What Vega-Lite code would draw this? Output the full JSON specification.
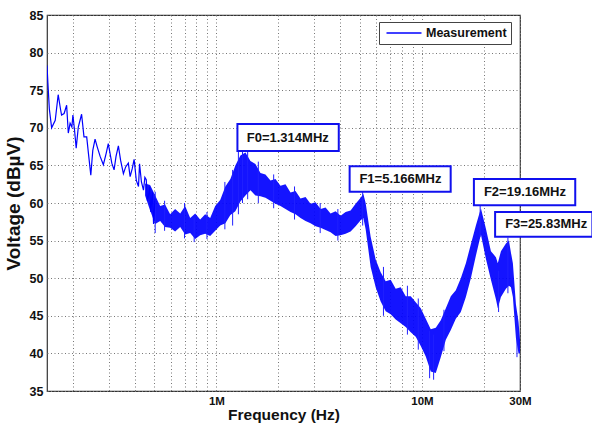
{
  "$schema": "https://vega.github.io/schema/vega-lite/v6.json",
  "width": 473,
  "height": 376,
  "autosize": {"type": "none"},
  "padding": {"left": 47, "top": 15, "right": 72, "bottom": 36},
  "background": "white",
  "config": {
    "font": "Liberation Sans",
    "view": {"stroke": "#333", "strokeWidth": 1.2},
    "axis": {
      "grid": true,
      "gridColor": "#777",
      "gridDash": [1, 2.5],
      "gridWidth": 1,
      "domain": false,
      "ticks": false,
      "labelFont": "Liberation Sans",
      "labelFontWeight": "bold",
      "labelFontSize": 11.5,
      "labelColor": "#111",
      "labelOverlap": false,
      "titleFont": "Liberation Sans",
      "titleFontWeight": "bold",
      "titleColor": "#111"
    }
  },
  "datasets": {
    "trace": [
      {"f": 150000, "v": 78.3}, {"f": 151500, "v": 76.0}, {"f": 154000, "v": 72.5}, {"f": 158000, "v": 70.0},
      {"f": 164500, "v": 71.0}, {"f": 170000, "v": 74.4}, {"f": 174700, "v": 72.4}, {"f": 176600, "v": 71.7},
      {"f": 181700, "v": 71.9}, {"f": 186900, "v": 73.0}, {"f": 190400, "v": 69.3}, {"f": 194300, "v": 70.6},
      {"f": 198200, "v": 70.1}, {"f": 200500, "v": 71.7}, {"f": 204000, "v": 69.8}, {"f": 208000, "v": 67.3},
      {"f": 213000, "v": 70.1}, {"f": 221000, "v": 71.8}, {"f": 227000, "v": 68.8}, {"f": 234000, "v": 68.8},
      {"f": 238600, "v": 66.6}, {"f": 245000, "v": 63.7}, {"f": 250500, "v": 67.0}, {"f": 257000, "v": 68.5},
      {"f": 263000, "v": 67.5}, {"f": 272000, "v": 66.2}, {"f": 282000, "v": 65.1}, {"f": 291000, "v": 66.6},
      {"f": 298000, "v": 67.9}, {"f": 310000, "v": 65.3}, {"f": 318000, "v": 64.4}, {"f": 325000, "v": 66.2},
      {"f": 333700, "v": 67.6}, {"f": 342000, "v": 65.7}, {"f": 353000, "v": 63.9}, {"f": 362000, "v": 64.8},
      {"f": 373000, "v": 65.3}, {"f": 380600, "v": 63.5}, {"f": 390000, "v": 64.6}, {"f": 398000, "v": 65.8},
      {"f": 408000, "v": 63.0}, {"f": 418000, "v": 62.2}, {"f": 423000, "v": 65.2}, {"f": 432000, "v": 62.8},
      {"f": 442000, "v": 61.7}, {"f": 449000, "v": 63.4}, {"f": 456000, "v": 63.1}, {"f": 462000, "v": 60.3},
      {"f": 467000, "v": 60.8}, {"f": 473000, "v": 62.2}, {"f": 480000, "v": 58.8}, {"f": 488000, "v": 61.5},
      {"f": 495000, "v": 57.2}, {"f": 503000, "v": 60.6}
    ],
    "band": [
      {"f": 450000, "lo": 61.0, "hi": 62.6},
      {"f": 476000, "lo": 59.0, "hi": 62.4},
      {"f": 504000, "lo": 57.2, "hi": 61.0},
      {"f": 533000, "lo": 57.6, "hi": 59.6},
      {"f": 563000, "lo": 56.8, "hi": 59.8},
      {"f": 596000, "lo": 56.7, "hi": 58.5},
      {"f": 630000, "lo": 56.2, "hi": 59.2},
      {"f": 667000, "lo": 56.8, "hi": 58.6},
      {"f": 705000, "lo": 55.8, "hi": 59.6},
      {"f": 746000, "lo": 56.0, "hi": 58.0},
      {"f": 789000, "lo": 55.2, "hi": 58.6},
      {"f": 834000, "lo": 55.7, "hi": 57.8},
      {"f": 882000, "lo": 55.9, "hi": 58.5},
      {"f": 933000, "lo": 55.6, "hi": 58.0},
      {"f": 987000, "lo": 56.3, "hi": 59.6},
      {"f": 1044000, "lo": 57.0, "hi": 60.4},
      {"f": 1106000, "lo": 57.3, "hi": 62.2},
      {"f": 1170000, "lo": 58.4, "hi": 63.2},
      {"f": 1237000, "lo": 58.9, "hi": 65.0},
      {"f": 1309000, "lo": 60.2, "hi": 66.3},
      {"f": 1385000, "lo": 61.0, "hi": 66.7},
      {"f": 1465000, "lo": 61.7, "hi": 65.6},
      {"f": 1549000, "lo": 61.0, "hi": 65.2},
      {"f": 1639000, "lo": 60.9, "hi": 64.0},
      {"f": 1733000, "lo": 60.7, "hi": 63.8},
      {"f": 1833000, "lo": 60.3, "hi": 63.0},
      {"f": 1939000, "lo": 59.9, "hi": 63.2},
      {"f": 2051000, "lo": 59.6, "hi": 62.3},
      {"f": 2169000, "lo": 59.2, "hi": 62.5},
      {"f": 2295000, "lo": 58.8, "hi": 61.4},
      {"f": 2427000, "lo": 58.5, "hi": 61.6},
      {"f": 2567000, "lo": 58.0, "hi": 60.6},
      {"f": 2715000, "lo": 57.6, "hi": 60.8},
      {"f": 2872000, "lo": 57.3, "hi": 59.9},
      {"f": 3038000, "lo": 56.9, "hi": 60.1},
      {"f": 3213000, "lo": 56.7, "hi": 59.2},
      {"f": 3398000, "lo": 56.4, "hi": 59.4},
      {"f": 3594000, "lo": 56.1, "hi": 58.6},
      {"f": 3802000, "lo": 55.6, "hi": 58.9},
      {"f": 4021000, "lo": 55.7, "hi": 58.3},
      {"f": 4253000, "lo": 55.9, "hi": 58.8},
      {"f": 4499000, "lo": 56.2, "hi": 59.0},
      {"f": 4759000, "lo": 56.9, "hi": 59.9},
      {"f": 5033000, "lo": 57.7, "hi": 60.7},
      {"f": 5190000, "lo": 58.0, "hi": 61.2},
      {"f": 5324000, "lo": 56.5, "hi": 60.0},
      {"f": 5631000, "lo": 51.5, "hi": 55.5},
      {"f": 5956000, "lo": 48.8, "hi": 52.5},
      {"f": 6300000, "lo": 46.9, "hi": 50.8},
      {"f": 6664000, "lo": 45.6, "hi": 49.6},
      {"f": 7048000, "lo": 45.2, "hi": 49.8},
      {"f": 7455000, "lo": 44.5, "hi": 48.6},
      {"f": 7886000, "lo": 44.0, "hi": 48.8},
      {"f": 8341000, "lo": 43.5, "hi": 47.6},
      {"f": 8822000, "lo": 42.8, "hi": 47.6},
      {"f": 9331000, "lo": 42.2, "hi": 46.8},
      {"f": 9870000, "lo": 41.0, "hi": 46.0},
      {"f": 10440000, "lo": 39.6, "hi": 44.6},
      {"f": 11040000, "lo": 37.6, "hi": 43.2},
      {"f": 11680000, "lo": 37.4, "hi": 43.4},
      {"f": 12350000, "lo": 39.5, "hi": 44.4},
      {"f": 13070000, "lo": 41.8, "hi": 46.0},
      {"f": 13820000, "lo": 43.1, "hi": 47.6},
      {"f": 14620000, "lo": 44.6, "hi": 48.4},
      {"f": 15460000, "lo": 45.5, "hi": 50.0},
      {"f": 16360000, "lo": 47.5, "hi": 52.0},
      {"f": 17300000, "lo": 50.0, "hi": 54.5},
      {"f": 18300000, "lo": 53.0, "hi": 57.0},
      {"f": 19360000, "lo": 55.8, "hi": 59.3},
      {"f": 20470000, "lo": 52.6, "hi": 56.6},
      {"f": 21660000, "lo": 49.8, "hi": 53.6},
      {"f": 22910000, "lo": 47.2, "hi": 52.8},
      {"f": 23400000, "lo": 46.0, "hi": 52.0},
      {"f": 24230000, "lo": 47.5, "hi": 53.6},
      {"f": 25630000, "lo": 48.6, "hi": 54.6},
      {"f": 26500000, "lo": 49.0, "hi": 55.0},
      {"f": 27110000, "lo": 48.8, "hi": 53.4},
      {"f": 27700000, "lo": 47.5, "hi": 52.0},
      {"f": 28670000, "lo": 42.0, "hi": 46.5},
      {"f": 29500000, "lo": 40.0, "hi": 44.2},
      {"f": 30000000, "lo": 40.0, "hi": 41.8}
    ],
    "spikes": [
      {"f": 504000, "a": 56.0, "b": 61.5}, {"f": 560000, "a": 56.3, "b": 60.3}, {"f": 700000, "a": 55.3, "b": 60.0},
      {"f": 780000, "a": 54.8, "b": 58.0}, {"f": 900000, "a": 55.2, "b": 58.8}, {"f": 1100000, "a": 56.5, "b": 62.8},
      {"f": 1200000, "a": 57.0, "b": 64.4}, {"f": 1280000, "a": 58.5, "b": 66.8}, {"f": 1340000, "a": 60.0, "b": 67.2},
      {"f": 1420000, "a": 60.5, "b": 67.0}, {"f": 1600000, "a": 60.0, "b": 65.5}, {"f": 1900000, "a": 59.3, "b": 63.8},
      {"f": 2400000, "a": 57.8, "b": 62.2}, {"f": 3200000, "a": 56.0, "b": 60.0}, {"f": 3900000, "a": 55.0, "b": 59.2},
      {"f": 5150000, "a": 57.0, "b": 61.7}, {"f": 6500000, "a": 45.0, "b": 51.5}, {"f": 8500000, "a": 42.5, "b": 49.0},
      {"f": 9600000, "a": 40.5, "b": 47.3}, {"f": 10900000, "a": 36.7, "b": 43.0}, {"f": 11400000, "a": 36.5, "b": 42.5},
      {"f": 12800000, "a": 40.3, "b": 45.8}, {"f": 19200000, "a": 55.5, "b": 59.6}, {"f": 23600000, "a": 45.5, "b": 51.0},
      {"f": 26200000, "a": 48.0, "b": 55.4}, {"f": 29000000, "a": 39.5, "b": 45.0}
    ],
    "notes": [
      {"label": "F0=1.314MHz", "x1": 1266000, "x2": 3940000, "y1": 66.9, "y2": 70.5, "xc": 2225000, "yc": 68.6},
      {"label": "F1=5.166MHz", "x1": 4450000, "x2": 13800000, "y1": 61.5, "y2": 64.9, "xc": 7860000, "yc": 63.2},
      {"label": "F2=19.16MHz", "x1": 17900000, "x2": 55700000, "y1": 59.7, "y2": 63.2, "xc": 31700000, "yc": 61.45},
      {"label": "F3=25.83MHz", "x1": 22700000, "x2": 67500000, "y1": 55.5, "y2": 58.8, "xc": 40200000, "yc": 57.15}
    ]
  },
  "layer": [
    {
      "data": {"name": "band"},
      "mark": {"type": "area", "color": "#0000ff", "opacity": 0.92, "clip": true},
      "encoding": {
        "x": {
          "field": "f", "type": "quantitative",
          "scale": {"type": "log", "domain": [150000, 30000000], "nice": false},
          "axis": {
            "title": "Frequency (Hz)",
            "titleFontSize": 15.5,
            "titlePadding": 1,
            "labelPadding": 4,
            "values": [200000, 300000, 400000, 500000, 600000, 700000, 800000, 900000, 1000000, 2000000, 3000000, 4000000, 5000000, 6000000, 7000000, 8000000, 9000000, 10000000, 20000000, 30000000],
            "labelExpr": "datum.value == 1000000 ? '1M' : datum.value == 10000000 ? '10M' : datum.value == 30000000 ? '30M' : ''",
            "labelOverlap": false,
            "labelFlush": false
          }
        },
        "y": {
          "field": "lo", "type": "quantitative",
          "scale": {"domain": [35, 85], "nice": false, "zero": false},
          "axis": {
            "title": "Voltage (dBµV)",
            "titleFontSize": 19,
            "titlePadding": 6,
            "labelPadding": 4,
            "values": [35, 40, 45, 50, 55, 60, 65, 70, 75, 80, 85],
            "tickCount": 11,
            "labelOverlap": false,
            "labelBound": false,
            "labelFlush": false,
            "labelFontSize": 12.5
          }
        },
        "y2": {"field": "hi"}
      }
    },
    {
      "data": {"name": "spikes"},
      "mark": {"type": "rule", "color": "#2020ff", "strokeWidth": 1, "clip": true},
      "encoding": {
        "x": {"field": "f", "type": "quantitative"},
        "y": {"field": "a", "type": "quantitative"},
        "y2": {"field": "b"}
      }
    },
    {
      "data": {"name": "trace"},
      "mark": {"type": "line", "strokeWidth": 1.2, "clip": true},
      "encoding": {
        "x": {"field": "f", "type": "quantitative"},
        "y": {"field": "v", "type": "quantitative"},
        "color": {
          "datum": "Measurement",
          "scale": {"range": ["#0000ff"]},
          "legend": {
            "title": null,
            "orient": "none",
            "legendX": 332,
            "legendY": 7,
            "fillColor": "white",
            "strokeColor": "#444",
            "padding": 4,
            "symbolType": "M-3,0H3",
            "symbolSize": 136,
            "symbolOffset": 14,
            "symbolStrokeWidth": 1.5,
            "symbolStrokeColor": "#6a6aff",
            "symbolFillColor": "transparent",
            "labelFont": "Liberation Sans",
            "labelFontWeight": "bold",
            "labelFontSize": 12.5,
            "labelColor": "#111",
            "labelOffset": 15
          }
        }
      }
    },
    {
      "data": {"name": "notes"},
      "mark": {"type": "rect", "fill": "white", "stroke": "#1010ee", "strokeWidth": 2},
      "encoding": {
        "x": {"field": "x1", "type": "quantitative"},
        "x2": {"field": "x2"},
        "y": {"field": "y1", "type": "quantitative"},
        "y2": {"field": "y2"}
      }
    },
    {
      "data": {"name": "notes"},
      "mark": {"type": "text", "font": "Liberation Sans", "fontWeight": "bold", "fontSize": 13, "color": "#111", "align": "center", "baseline": "middle"},
      "encoding": {
        "x": {"field": "xc", "type": "quantitative"},
        "y": {"field": "yc", "type": "quantitative"},
        "text": {"field": "label"}
      }
    }
  ]
}
